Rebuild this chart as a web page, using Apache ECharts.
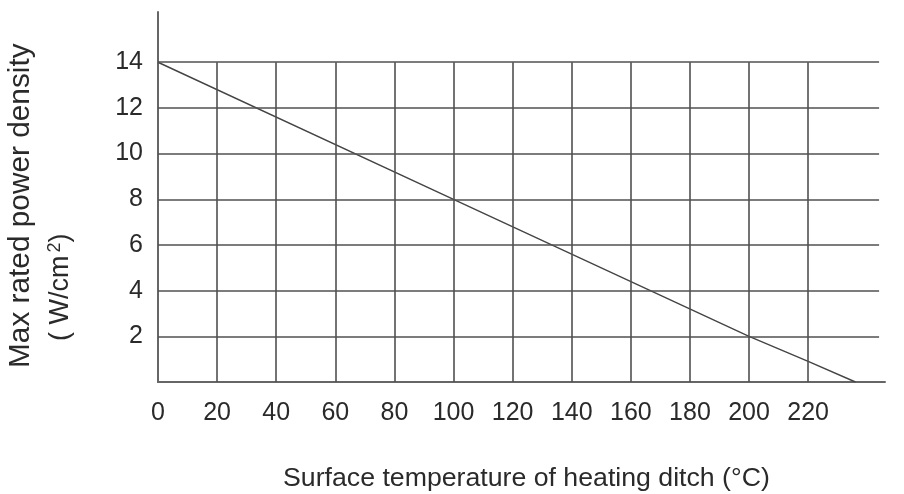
<!DOCTYPE html>
<html>
<head>
<meta charset="utf-8">
<script src="https://cdn.jsdelivr.net/npm/echarts@6/dist/echarts.min.js"></script>
<style>
html,body{margin:0;padding:0;background:#fff;}
#chart{width:904px;height:494px;}
</style>
</head>
<body>
<div id="chart"></div>
<script>
// ---- data ----
var temperature = [0, 100, 200, 220, 236];          // °C
var powerDensity = [14, 8, 2, 0.9, 0];               // W/cm2
var xTicks = [0, 20, 40, 60, 80, 100, 120, 140, 160, 180, 200, 220];
var yTicks = [2, 4, 6, 8, 10, 12, 14];
var xTitle = 'Surface temperature of heating ditch (°C)';
var yTitle = 'Max rated power density';

var FONT = '"Liberation Sans", Arial, Helvetica, sans-serif';
var gridXEnd = 244;   // horizontal grid lines end
var gridYTop = 14;    // vertical grid lines end

var lineData = temperature.map(function (t, i) { return [t, powerDensity[i]]; });
var gridLines = [];
yTicks.forEach(function (y) {
  gridLines.push([{ coord: [0, y] }, { coord: [gridXEnd, y] }]);
});
xTicks.forEach(function (x) {
  if (x > 0) gridLines.push([{ coord: [x, 0] }, { coord: [x, gridYTop] }]);
});

var chart = echarts.init(document.getElementById('chart'), null, { renderer: 'canvas' });
chart.setOption({
  animation: false,
  backgroundColor: '#fff',
  grid: { left: 158, right: 19, top: 12, bottom: 112, containLabel: false },
  xAxis: {
    type: 'value', min: 0, max: 246, interval: 20,
    axisLine: { show: true, lineStyle: { color: '#666', width: 2 } },
    axisTick: { show: false },
    splitLine: { show: false },
    axisLabel: {
      margin: 19, fontSize: 25, color: '#2a2a2a', fontFamily: FONT,
      formatter: function (v) { return xTicks.indexOf(v) >= 0 ? String(v) : ''; }
    }
  },
  yAxis: {
    type: 'value', min: 0, max: 16.2, interval: 2,
    axisLine: { show: true, lineStyle: { color: '#666', width: 2 } },
    axisTick: { show: false },
    splitLine: { show: false },
    axisLabel: {
      margin: 15, fontSize: 25, color: '#2a2a2a', fontFamily: FONT,
      formatter: function (v) { return yTicks.indexOf(v) >= 0 ? String(v) : ''; }
    }
  },
  graphic: [
    {
      type: 'text', x: 283, y: 479, silent: true,
      style: { text: xTitle, fontSize: 26.7, fontFamily: FONT, fill: '#2a2a2a',
               align: 'left', verticalAlign: 'middle' }
    },
    {
      type: 'text', x: 21, y: 368, rotation: Math.PI / 2, silent: true,
      style: { text: yTitle, fontSize: 29.8, fontFamily: FONT, fill: '#2a2a2a',
               align: 'left', verticalAlign: 'middle' }
    },
    {
      type: 'text', x: 61, y: 341, rotation: Math.PI / 2, silent: true,
      style: {
        text: '{a|( W/cm}{s|2}{a|)}',
        align: 'left', verticalAlign: 'middle',
        rich: {
          a: { fontSize: 27, fontFamily: FONT, fill: '#2a2a2a', color: '#2a2a2a' },
          s: { fontSize: 18, fontFamily: FONT, fill: '#2a2a2a', color: '#2a2a2a', padding: [0, 0, 12, 3] }
        }
      }
    }
  ],
  series: [
    {
      type: 'line',
      data: lineData,
      symbol: 'none',
      lineStyle: { color: '#444', width: 1.4 },
      silent: true,
      markLine: {
        silent: true,
        symbol: ['none', 'none'],
        label: { show: false },
        lineStyle: { color: '#505050', width: 1.6, type: 'solid' },
        emphasis: { disabled: true },
        data: gridLines
      },
      z: 3
    }
  ]
});
</script>
</body>
</html>
